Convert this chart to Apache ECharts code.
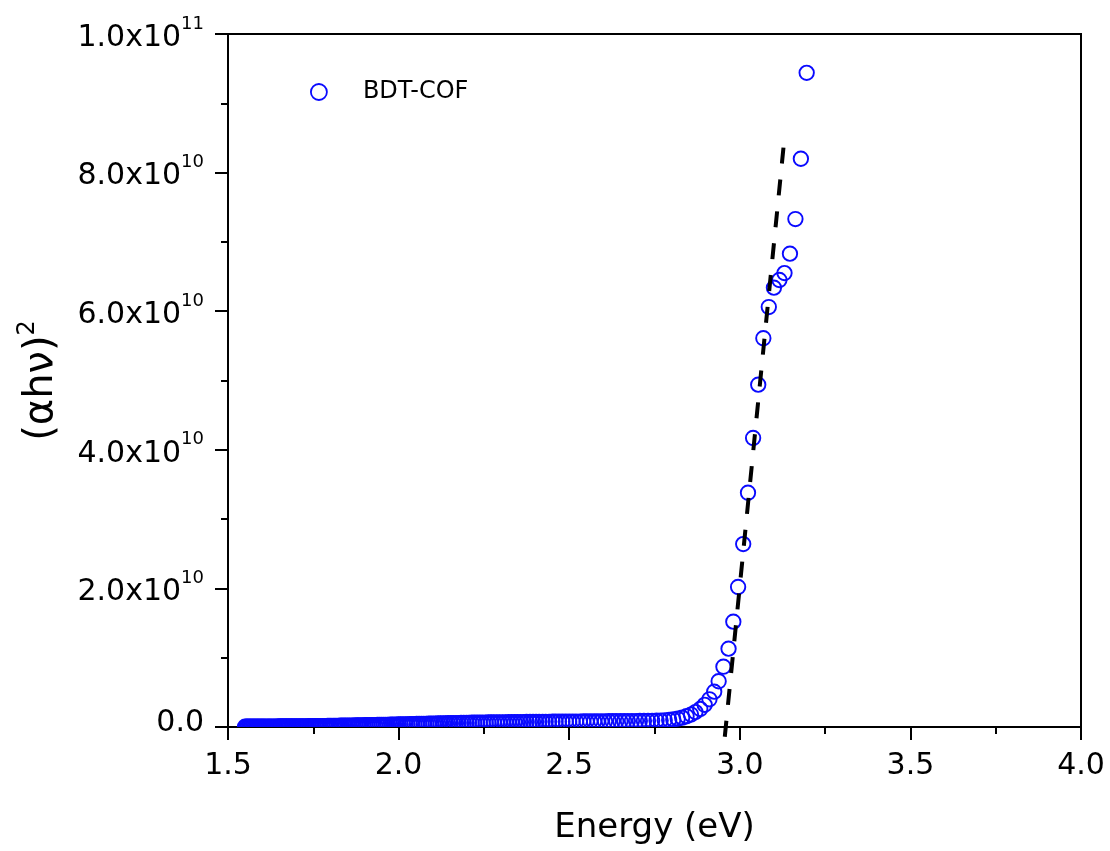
<!DOCTYPE html>
<html><head><meta charset="utf-8">
<script src="https://cdn.jsdelivr.net/npm/echarts@6/dist/echarts.min.js"></script>
<style>html,body{margin:0;padding:0;background:#fff}#c{width:1110px;height:851px}</style>
</head><body><div id="c"></div>
<script>
// Photon energy (eV) of each measured point
const energy = [
3.196,3.179,3.163,3.147,3.131,3.116,3.100,3.085,3.069,3.054,
3.039,3.024,3.010,2.995,2.981,2.967,2.952,2.938,2.925,2.911,
2.897,2.884,2.870,2.857,2.844,2.831,2.818,2.805,2.793,2.780,
2.768,2.756,2.743,2.731,2.719,2.707,2.696,2.684,2.672,2.661,
2.650,2.638,2.627,2.616,2.605,2.594,2.583,2.573,2.562,2.551,
2.541,2.531,2.520,2.510,2.500,2.490,2.480,2.470,2.460,2.451,
2.441,2.431,2.422,2.412,2.403,2.394,2.385,2.375,2.366,2.357,
2.348,2.340,2.331,2.322,2.313,2.305,2.296,2.288,2.279,2.271,
2.263,2.255,2.246,2.238,2.230,2.222,2.214,2.206,2.199,2.191,
2.183,2.175,2.168,2.160,2.153,2.145,2.138,2.131,2.123,2.116,
2.109,2.102,2.095,2.088,2.081,2.074,2.067,2.060,2.053,2.046,
2.039,2.033,2.026,2.020,2.013,2.006,2.000,1.994,1.987,1.981,
1.975,1.968,1.962,1.956,1.950,1.944,1.938,1.931,1.925,1.920,
1.914,1.908,1.902,1.896,1.890,1.884,1.879,1.873,1.867,1.862,
1.856,1.851,1.845,1.840,1.834,1.829,1.824,1.818,1.813,1.808,
1.802,1.797,1.792,1.787,1.782,1.777,1.771,1.766,1.761,1.756,
1.751,1.746,1.742,1.737,1.732,1.727,1.722,1.717,1.713,1.708,
1.703,1.699,1.694,1.689,1.685,1.680,1.676,1.671,1.667,1.662,
1.658,1.653,1.649,1.645,1.640,1.636,1.632,1.627,1.623,1.619,
1.615,1.610,1.606,1.602,1.598,1.594,1.590,1.586,1.582,1.578,
1.574,1.570,1.566,1.562,1.558,1.554,1.550
];
// (alpha h nu)^2 for each point
const alphaHv2 = [
9.44e10,8.20e10,7.33e10,6.83e10,6.55e10,6.45e10,6.34e10,6.06e10,5.61e10,4.94e10,
4.17e10,3.38e10,2.64e10,2.02e10,1.52e10,1.13e10,8.7e9,6.6e9,5.1e9,4.0e9,
3.2e9,2.6e9,2.15e9,1.8e9,1.55e9,1.35e9,1.2e9,1.1e9,1.02e9,0.97e9,
0.93e9,0.91e9,0.89e9,0.88e9,0.87e9,0.87e9,0.86e9,0.86e9,0.85e9,0.85e9,
0.84e9,0.84e9,0.83e9,0.83e9,0.82e9,0.82e9,0.81e9,0.81e9,0.80e9,0.80e9,
0.80e9,0.79e9,0.79e9,0.78e9,0.78e9,0.78e9,0.77e9,0.77e9,0.76e9,0.76e9,
0.75e9,0.75e9,0.74e9,0.74e9,0.73e9,0.73e9,0.72e9,0.72e9,0.71e9,0.71e9,
0.70e9,0.70e9,0.69e9,0.69e9,0.68e9,0.68e9,0.67e9,0.67e9,0.66e9,0.65e9,
0.65e9,0.64e9,0.63e9,0.63e9,0.62e9,0.61e9,0.61e9,0.60e9,0.59e9,0.58e9,
0.58e9,0.57e9,0.56e9,0.55e9,0.55e9,0.54e9,0.53e9,0.52e9,0.51e9,0.51e9,
0.50e9,0.49e9,0.48e9,0.47e9,0.46e9,0.45e9,0.45e9,0.44e9,0.43e9,0.42e9,
0.41e9,0.40e9,0.39e9,0.39e9,0.38e9,0.37e9,0.36e9,0.35e9,0.35e9,0.34e9,
0.33e9,0.32e9,0.32e9,0.31e9,0.30e9,0.29e9,0.29e9,0.28e9,0.27e9,0.27e9,
0.26e9,0.25e9,0.25e9,0.24e9,0.24e9,0.23e9,0.22e9,0.22e9,0.21e9,0.21e9,
0.20e9,0.20e9,0.19e9,0.19e9,0.18e9,0.18e9,0.17e9,0.17e9,0.16e9,0.16e9,
0.15e9,0.15e9,0.15e9,0.14e9,0.14e9,0.13e9,0.13e9,0.13e9,0.12e9,0.12e9,
0.12e9,0.11e9,0.11e9,0.11e9,0.10e9,0.10e9,0.10e9,0.10e9,0.09e9,0.09e9,
0.09e9,0.09e9,0.08e9,0.08e9,0.08e9,0.08e9,0.08e9,0.07e9,0.07e9,0.07e9,
0.07e9,0.07e9,0.07e9,0.06e9,0.06e9,0.06e9,0.06e9,0.06e9,0.06e9,0.06e9,
0.05e9,0.05e9,0.05e9,0.05e9,0.05e9,0.05e9,0.05e9,0.05e9,0.05e9,0.05e9,
0.04e9,0.04e9,0.04e9,0.04e9,0.04e9,0.04e9,0.04e9
];
// Linear (Tauc) extrapolation line end points
const fitX = [3.128, 2.953];
const fitY = [8.36e10, -2.9e9];
// Tick labels
const xTickLabels = {'1.5':'1.5','2':'2.0','2.5':'2.5','3':'3.0','3.5':'3.5','4':'4.0'};
const yTickLabels = {
  '0':'{z|0.0}',
  '20000000000':'{m|2.0x10}{s|10}',
  '40000000000':'{m|4.0x10}{s|10}',
  '60000000000':'{m|6.0x10}{s|10}',
  '80000000000':'{m|8.0x10}{s|10}',
  '100000000000':'{m|1.0x10}{s|11}'
};
const seriesName = 'BDT-COF';
const xTitle = 'Energy (eV)';

const FONT = '"DejaVu Sans", sans-serif';
const BLUE = '#0a0aff';
const chart = echarts.init(document.getElementById('c'), null, {renderer:'canvas'});
chart.setOption({
  animation: false,
  backgroundColor: '#fff',
  grid: {left: 228, top: 34, right: 29, bottom: 124, show: true, borderColor: '#000', borderWidth: 2, backgroundColor: 'transparent'},
  legend: {
    left: 310, top: 80, padding: 0, itemWidth: 16, itemHeight: 16, selectedMode: false,
    data: [{name: seriesName, icon: 'circle', itemStyle: {color: 'transparent', borderColor: BLUE, borderWidth: 1.8}}],
    textStyle: {fontFamily: FONT, fontSize: 24, color: '#000', padding: [0, 0, 0, 31]}
  },
  xAxis: {
    type: 'value', min: 1.5, max: 4.0, interval: 0.5,
    name: xTitle, nameLocation: 'middle', nameGap: 84,
    nameTextStyle: {fontFamily: FONT, fontSize: 34, color: '#000'},
    axisLine: {lineStyle: {color: '#000', width: 2}},
    axisTick: {show: true, inside: false, length: 13, lineStyle: {color: '#000', width: 2}},
    minorTick: {show: true, splitNumber: 2, length: 7, lineStyle: {color: '#000', width: 2}},
    splitLine: {show: false},
    axisLabel: {fontFamily: FONT, fontSize: 30, color: '#000', margin: 24, lineHeight: 30,
      formatter: v => xTickLabels[String(Math.round(v*10)/10)] || v.toFixed(1)}
  },
  yAxis: {
    type: 'value', min: 0, max: 1e11, interval: 2e10,
    name: '{p|(αhν)}{s|2}', nameLocation: 'middle', nameGap: 166, nameRotate: 90,
    nameTextStyle: {fontFamily: FONT, color: '#000', rich: {
      p: {fontFamily: FONT, fontSize: 40, color: '#000', lineHeight: 40, verticalAlign: 'bottom'},
      s: {fontFamily: FONT, fontSize: 24, color: '#000', verticalAlign: 'top', padding: [0, 0, 22, 0]}
    }},
    axisLine: {lineStyle: {color: '#000', width: 2}},
    axisTick: {show: true, inside: false, length: 13, lineStyle: {color: '#000', width: 2}},
    minorTick: {show: true, splitNumber: 2, length: 7, lineStyle: {color: '#000', width: 2}},
    splitLine: {show: false},
    axisLabel: {margin: 24, formatter: v => yTickLabels[String(Math.round(v))] || String(v),
      rich: {
        m: {fontFamily: FONT, fontSize: 30, color: '#000', lineHeight: 30, verticalAlign: 'bottom'},
        s: {fontFamily: FONT, fontSize: 18, color: '#000', verticalAlign: 'top', padding: [0, 0, 20, 0]},
        z: {fontFamily: FONT, fontSize: 30, color: '#000', lineHeight: 30, padding: [0, 0, 8, 0]}
      }
    }
  },
  series: [
    {
      type: 'custom', name: seriesName, clip: true, z: 3,
      itemStyle: {color: BLUE},
      encode: {x: 0, y: 1},
      data: energy.map((e, i) => [e, alphaHv2[i]]),
      renderItem: (params, api) => {
        const p = api.coord([api.value(0), api.value(1)]);
        return {type: 'circle', shape: {cx: p[0], cy: p[1], r: 7.2},
          style: {fill: 'none', stroke: BLUE, lineWidth: 1.9}};
      }
    },
    {
      type: 'line', name: 'fit', clip: false, z: 4, silent: true, symbol: 'none',
      data: fitX.map((x, i) => [x, fitY[i]]),
      lineStyle: {color: '#000', width: 4, type: [16, 16]}
    }
  ]
});
</script></body></html>
